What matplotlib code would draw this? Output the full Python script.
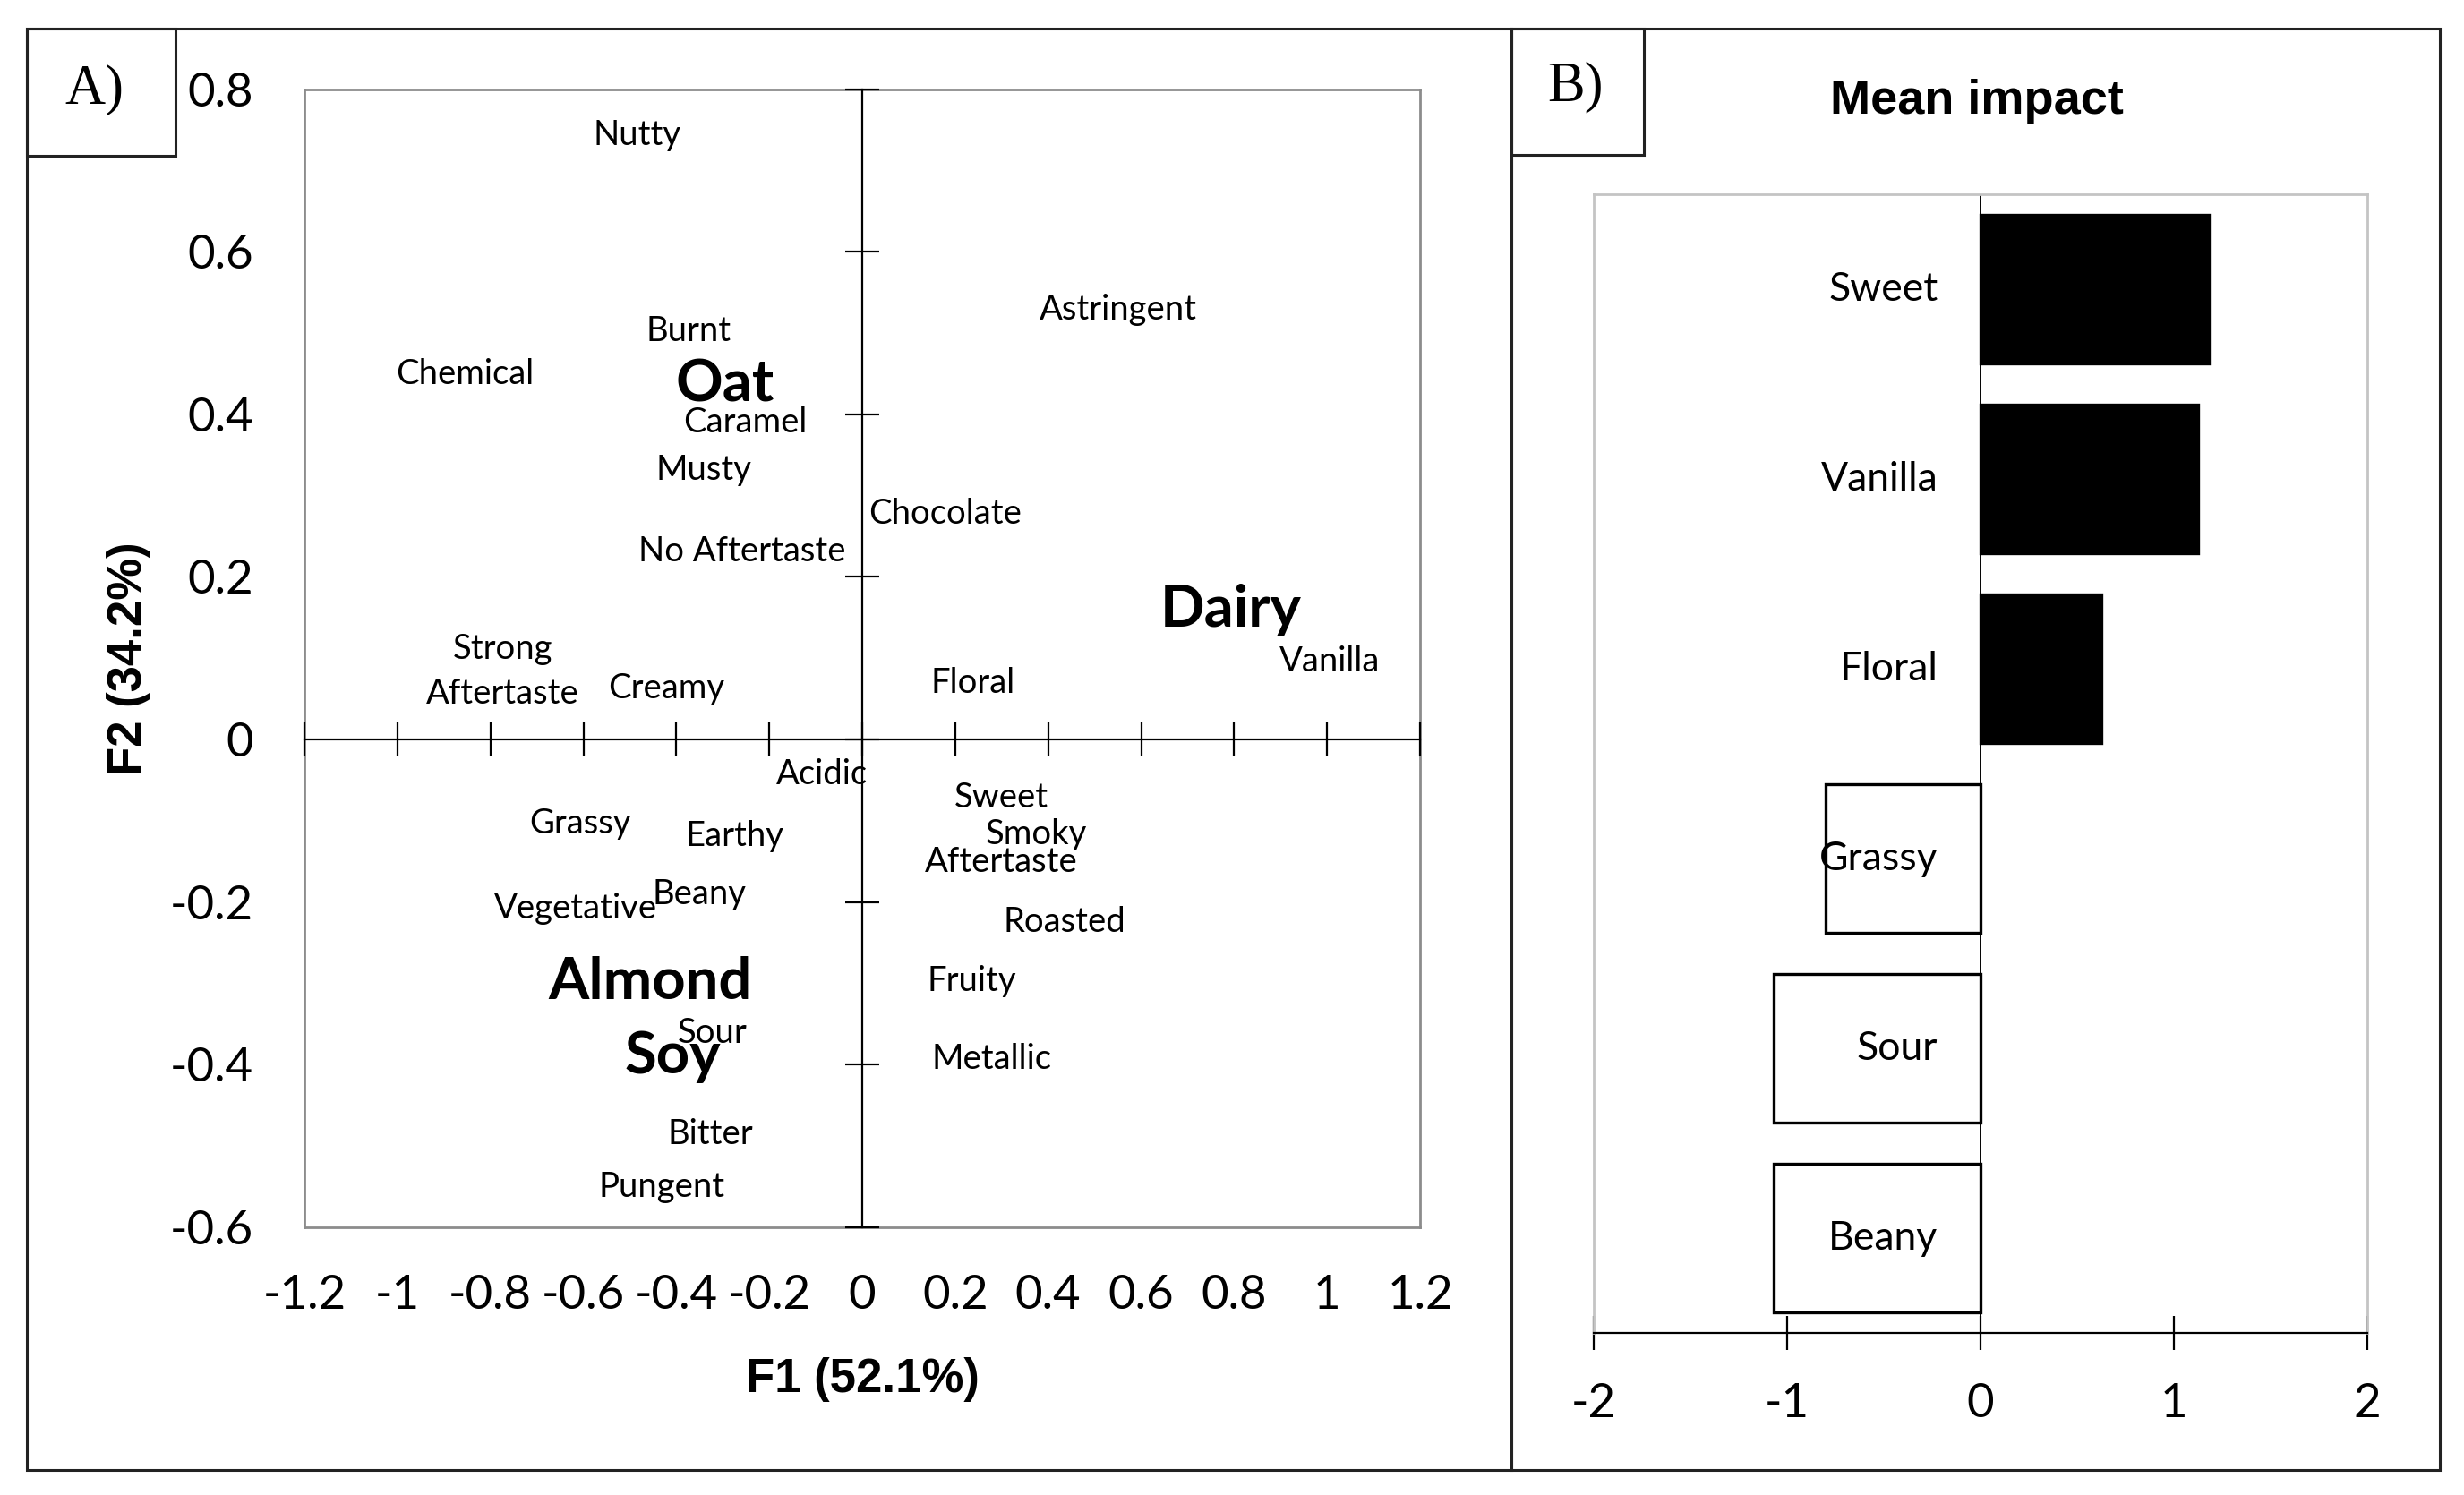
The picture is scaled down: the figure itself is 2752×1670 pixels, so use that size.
import matplotlib
matplotlib.use("Agg")
import matplotlib.pyplot as plt
from matplotlib.patches import Rectangle

# ---------------- data ----------------
attr_labels = ["Nutty", "Astringent", "Burnt", "Chemical", "Caramel", "Musty",
               "Chocolate", "No Aftertaste", "Vanilla", "Strong\nAftertaste",
               "Creamy", "Floral", "Acidic", "Sweet\nAftertaste", "Smoky",
               "Grassy", "Earthy", "Beany", "Vegetative", "Roasted", "Fruity",
               "Sour", "Metallic", "Bitter", "Pungent"]
attr_x = [-0.485, 0.550, -0.374, -0.854, -0.252, -0.340,
          0.178, -0.259, 1.006, -0.773,
          -0.421, 0.239, -0.086, 0.300, 0.374,
          -0.607, -0.275, -0.350, -0.617, 0.435, 0.235,
          -0.323, 0.279, -0.326, -0.431]
attr_y = [0.743, 0.529, 0.502, 0.449, 0.390, 0.332,
          0.277, 0.231, 0.096, 0.084,
          0.063, 0.069, -0.043, -0.111, -0.117,
          -0.103, -0.119, -0.190, -0.208, -0.225, -0.297,
          -0.361, -0.393, -0.486, -0.550]

group_labels = ["Oat", "Dairy", "Almond", "Soy"]
group_x = [-0.296, 0.793, -0.456, -0.408]
group_y = [0.436, 0.159, -0.299, -0.390]

x_ticks = [-1.2, -1.0, -0.8, -0.6, -0.4, -0.2, 0.0, 0.2, 0.4, 0.6, 0.8, 1.0, 1.2]
x_tick_labels = ["-1.2", "-1", "-0.8", "-0.6", "-0.4", "-0.2", "0",
                 "0.2", "0.4", "0.6", "0.8", "1", "1.2"]
y_ticks = [-0.6, -0.4, -0.2, 0.0, 0.2, 0.4, 0.6, 0.8]
y_tick_labels = ["-0.6", "-0.4", "-0.2", "0", "0.2", "0.4", "0.6", "0.8"]

impact_labels = ["Sweet", "Vanilla", "Floral", "Grassy", "Sour", "Beany"]
impact_values = [1.18, 1.125, 0.625, -0.80, -1.07, -1.07]
impact_ticks = [-2, -1, 0, 1, 2]

# ---------------- figure ----------------
W, H = 2752, 1670
fig = plt.figure(figsize=(W / 100, H / 100), dpi=100)
fig.patch.set_facecolor("white")


def fbox(x0, y0, x1, y1):
    """pixel box (top-left origin) -> figure fraction [l, b, w, h]"""
    return [x0 / W, 1 - y1 / H, (x1 - x0) / W, (y1 - y0) / H]


def frect(x0, y0, x1, y1, lw=2.2, color="#222222"):
    l, b, w, h = fbox(x0, y0, x1, y1)
    r = Rectangle((l, b), w, h, transform=fig.transFigure, fill=False,
                  edgecolor=color, linewidth=lw, zorder=0)
    fig.add_artist(r)


# outer panel boxes and label boxes
frect(30, 32, 1688, 1642)
frect(1688, 32, 2725, 1642)
frect(30, 32, 196, 174)
frect(1688, 32, 1836, 173)
fig.text(105 / W, 1 - 100 / H, "A)", ha="center", va="center",
         fontsize=45, family="Liberation Serif")
fig.text(1760 / W, 1 - 97 / H, "B)", ha="center", va="center",
         fontsize=45, family="Liberation Serif")

SANS = ["Lato", "DejaVu Sans"]
BOLD = ["Liberation Sans", "DejaVu Sans"]

# ---------------- panel A ----------------
posA = fbox(340, 99.5, 1586, 1371)
fr = fig.add_axes(posA)
fr.set_xlim(-1.2, 1.2)
fr.set_ylim(-0.6, 0.8)
fr.set_xticks(x_ticks)
fr.set_xticklabels(x_tick_labels, family=SANS)
fr.set_yticks(y_ticks)
fr.set_yticklabels(y_tick_labels, family=SANS)
fr.tick_params(axis="both", length=0, labelsize=38)
fr.tick_params(axis="x", pad=38)
fr.tick_params(axis="y", pad=41)
for s in fr.spines.values():
    s.set_color("#8c8c8c")
    s.set_linewidth(2.0)
fr.set_xlabel("F1 (52.1%)", fontsize=38, fontweight="bold", family=BOLD)
fr.set_ylabel("F2 (34.2%)", fontsize=38, fontweight="bold", family=BOLD)
fr.xaxis.set_label_coords(0.5, -0.134)
fr.xaxis.label.set_va("center")
fr.yaxis.set_label_coords(-0.157, 0.5)
fr.yaxis.label.set_va("center")

cx = fig.add_axes(posA)
cx.set_xlim(-1.2, 1.2)
cx.set_ylim(-0.6, 0.8)
cx.patch.set_visible(False)
cx.spines["left"].set_position(("data", 0))
cx.spines["bottom"].set_position(("data", 0))
cx.spines["top"].set_visible(False)
cx.spines["right"].set_visible(False)
for k in ("left", "bottom"):
    cx.spines[k].set_linewidth(1.6)
    cx.spines[k].set_color("black")
cx.set_xticks(x_ticks)
cx.set_yticks(y_ticks)
cx.tick_params(axis="both", direction="inout", length=28, width=1.6,
               labelbottom=False, labelleft=False, color="black")

for lab, x, y in zip(attr_labels, attr_x, attr_y):
    ls = 1.0
    if lab.startswith("Strong"):
        ls = 1.5
    elif lab.startswith("Sweet"):
        ls = 2.25
    cx.text(x, y, lab, ha="center", va="center", fontsize=27.5,
            family=SANS, linespacing=ls, zorder=5)
for lab, x, y in zip(group_labels, group_x, group_y):
    cx.text(x, y, lab, ha="center", va="center", fontsize=47,
            fontweight="bold", family=SANS, zorder=5)

# ---------------- panel B ----------------
bx = fig.add_axes(fbox(1780, 217, 2644, 1489))
pos = list(range(len(impact_labels) - 1, -1, -1))
colors = ["black" if v > 0 else "white" for v in impact_values]
bx.axvline(0, color="black", lw=1.4, zorder=1)
bx.barh(pos, impact_values, height=0.78, color=colors, edgecolor="black",
        linewidth=2.4, zorder=2)
bx.set_xlim(-2, 2)
bx.set_ylim(-0.5, 5.5)
bx.set_yticks([])
bx.set_xticks(impact_ticks)
bx.set_xticklabels([str(t) for t in impact_ticks], family=SANS)
bx.tick_params(axis="x", direction="inout", length=27, width=1.6,
               labelsize=38, pad=27, color="black")
for k in ("top", "left", "right"):
    bx.spines[k].set_color("#c4c4c4")
    bx.spines[k].set_linewidth(2.0)
bx.spines["bottom"].set_color("black")
bx.spines["bottom"].set_linewidth(1.6)
for lab, p in zip(impact_labels, pos):
    bx.text(-0.22, p, lab, ha="right", va="center", fontsize=32,
            family=SANS, zorder=5)
bx.text((2208 - 1780) / 864, 1 + (217 - 113) / 1272, "Mean impact",
        transform=bx.transAxes, ha="center", va="center", fontsize=39,
        fontweight="bold", family=BOLD)

fig.savefig("out.png", dpi=100, facecolor="white")
